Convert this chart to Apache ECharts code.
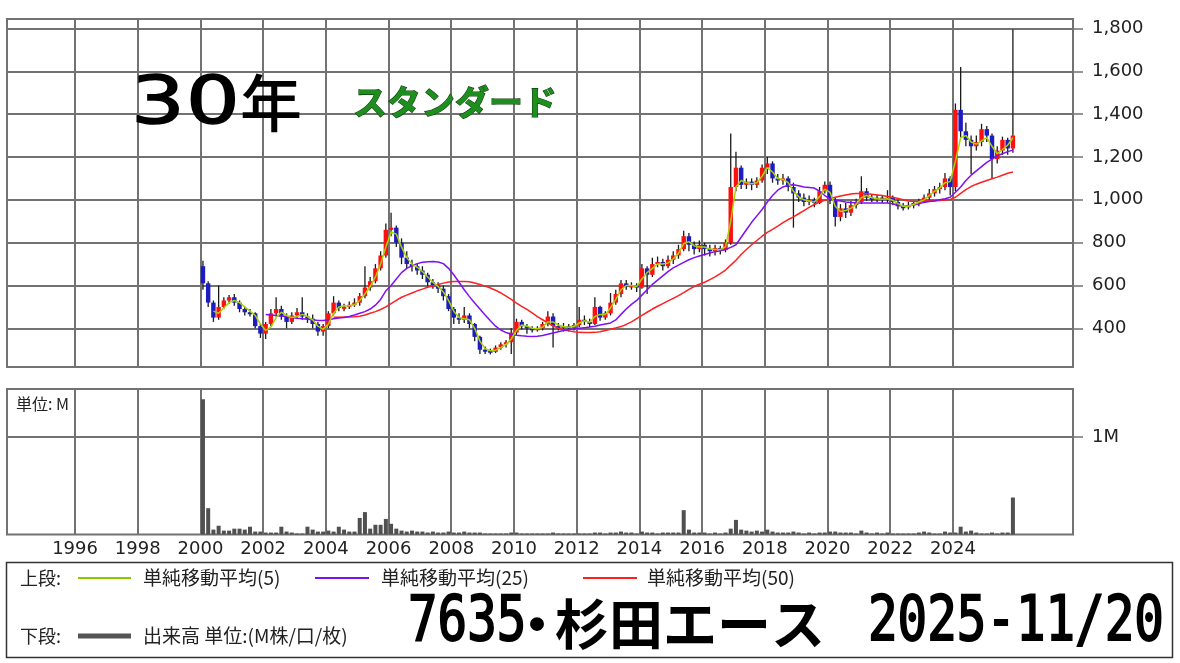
<!DOCTYPE html>
<html><head><meta charset="utf-8">
<script src="https://cdn.jsdelivr.net/npm/echarts@6/dist/echarts.min.js"></script>
<style>html,body{margin:0;padding:0;background:#fff}#c{width:1180px;height:663px}</style>
</head><body><div id="c"></div>
<script>
// ---- tick labels ----
const yearLabels = ['1996','1998','2000','2002','2004','2006','2008','2010','2012','2014','2016','2018','2020','2022','2024'];
const priceTicks = [400,600,800,1000,1200,1400,1600,1800];
const volumeTicks = [1];
// ---- axis range (bimonthly bins) ----
const axisFirstBin = '1993-11';
const axisBinCount = 204;
const firstBar = '2000-01';
const ma5From = '2000-05', ma25From = '2002-01', ma50From = '2004-03';
// ---- candles (bimonthly, yen) ----
const open = [
690,610,520,450,500,530, 545,520,490,475,470,410, 375,420,470,490,455,430, 460,475,455,445,420,385,
410,470,520,495,500,510, 520,550,590,620,680,740, 860,870,800,730,700,690, 670,650,615,600,585,550,
490,450,440,460,420,360, 300,295,290,310,325,335, 380,430,410,400,395,400, 420,455,410,405,410,400,
415,440,430,420,500,450, 470,520,560,610,595,600, 590,680,650,700,710,690, 720,740,770,830,790,770,
790,770,760,775,765,800, 1060,1150,1070,1085,1070,1090, 1150,1170,1100,1090,1100,1060, 1030,1010,990,1000,985,1040,
1070,1000,920,960,940,975, 990,1040,1010,1005,1010,1000, 1010,990,970,965,975,985, 995,1010,1030,1050,1060,1100,
1060,1420,1320,1280,1250,1270, 1330,1300,1190,1230,1280,1240];
const close = [
610,520,450,500,530,545, 520,490,475,470,410,375, 420,470,490,455,430,460, 475,455,445,420,385,410,
470,520,495,500,510,520, 550,590,620,680,740,860, 870,800,730,700,690,670, 650,615,600,585,550,490,
450,440,460,420,360,300, 295,290,310,325,335,380, 430,410,400,395,400,420, 455,410,405,410,400,415,
440,430,420,500,450,470, 520,560,610,595,600,590, 680,650,700,710,690,720, 740,770,830,790,770,790,
770,760,775,765,800,1060, 1150,1070,1085,1070,1090,1150, 1170,1100,1090,1100,1060,1030, 1010,990,1000,985,1040,1070,
1000,920,960,940,975,990, 1040,1010,1005,1010,1000,1010, 990,970,965,975,985,995, 1010,1030,1050,1060,1100,1060,
1420,1320,1280,1250,1270,1330, 1300,1190,1230,1280,1240,1300];
const low = [
580,500,430,440,490,515, 505,475,460,455,400,355, 350,410,455,440,400,420, 445,440,425,400,365,365,
400,460,480,480,490,500, 505,540,575,610,670,730, 830,780,700,680,665,650, 630,595,585,565,530,480,
420,420,425,400,340,280, 280,278,285,300,310,280, 370,395,375,380,385,390, 410,310,390,385,385,390,
405,415,405,415,435,440, 460,510,545,580,580,570, 585,560,640,685,670,680, 700,725,760,760,745,755,
740,735,740,745,755,790, 1040,1050,1050,1045,1055,1080, 1120,1080,1070,1070,1040,870, 990,970,975,965,980,1030,
980,875,900,915,925,960, 980,995,990,990,985,985, 975,955,950,955,960,970, 985,1000,1015,1030,1045,1020,
1040,1290,1250,1120,1230,1250, 1270,1100,1170,1210,1210,1220];
const high = [
715,620,530,600,545,555, 560,530,500,490,475,420, 430,490,545,505,470,475, 495,545,470,465,430,420,
480,550,530,515,525,540, 565,690,640,700,760,890, 940,880,820,760,720,700, 690,660,630,615,600,560,
500,470,500,470,425,365, 315,305,320,335,345,400, 445,440,420,410,410,430, 480,470,425,425,420,425,
500,460,445,545,505,480, 565,580,625,625,615,610, 700,690,730,735,725,740, 760,790,855,845,805,810,
800,790,790,785,815,1310, 1225,1160,1100,1100,1105,1165, 1200,1180,1120,1120,1110,1080, 1045,1030,1020,1010,1060,1085,
1085,1010,980,985,995,1005, 1110,1055,1025,1025,1020,1045, 1020,1000,985,990,995,1005, 1025,1050,1065,1080,1125,1110,
1450,1620,1360,1300,1300,1355, 1345,1310,1250,1295,1290,1795];
// ---- volume (M shares) ----
const volume = [
1.39,0.27,0.05,0.09,0.04,0.04, 0.06,0.06,0.05,0.08,0.03,0.03, 0.02,0.02,0.02,0.08,0.03,0.02, 0.01,0.01,0.08,0.05,0.03,0.03,
0.04,0.03,0.08,0.05,0.03,0.03, 0.17,0.23,0.06,0.10,0.10,0.16, 0.11,0.06,0.04,0.03,0.04,0.03, 0.03,0.02,0.03,0.02,0.02,0.03,
0.02,0.02,0.03,0.02,0.02,0.02, 0.01,0.01,0.01,0.01,0.01,0.02, 0.02,0.01,0.01,0.01,0.01,0.01, 0.01,0.02,0.01,0.01,0.01,0.01,
0.01,0.01,0.01,0.02,0.02,0.01, 0.02,0.02,0.03,0.02,0.02,0.01, 0.03,0.02,0.02,0.01,0.02,0.02, 0.02,0.02,0.25,0.05,0.02,0.02,
0.02,0.01,0.02,0.01,0.02,0.06, 0.15,0.05,0.04,0.03,0.04,0.03, 0.05,0.03,0.02,0.02,0.02,0.03, 0.02,0.01,0.02,0.01,0.02,0.02,
0.03,0.03,0.02,0.02,0.02,0.01, 0.04,0.02,0.01,0.02,0.01,0.02, 0.01,0.01,0.01,0.01,0.01,0.02, 0.03,0.02,0.01,0.01,0.03,0.02,
0.02,0.08,0.03,0.04,0.02,0.01, 0.01,0.02,0.01,0.02,0.02,0.38];
// ---- moving averages ----
const ma5 = [
480,470,495,520, 530,520,500,480,460,420, 390,405,450,475,460,450, 455,465,455,440,410,395,
420,470,500,505,505,510, 530,560,595,640,700,780, 850,840,780,730,700,685, 665,640,615,595,570,530,
480,450,445,440,400,340, 305,295,298,310,325,350, 390,415,410,400,398,405, 430,430,415,408,405,408,
425,435,428,455,465,465, 495,535,580,600,600,595, 630,660,680,700,700,705, 725,750,795,805,785,780,
780,770,768,768,780,900, 1060,1090,1080,1075,1080,1110, 1150,1130,1100,1095,1080,1040, 1015,1000,995,990,1015,1050,
1035,970,945,950,960,980, 1010,1020,1010,1005,1003,1005, 998,982,970,970,978,990, 1000,1020,1040,1055,1080,1085,
1180,1290,1300,1270,1260,1275, 1290,1250,1215,1235,1255,1290];
const ma25 = [
465,462,460,458,455,450, 447,445,442,440,437,437, 440,445,448,450,455,462, 470,478,490,508,535,575,
600,630,660,680,692,702, 708,711,712,710,702,680, 650,615,580,548,518,490, 462,435,410,392,380,372,
368,365,363,362,363,366, 372,378,384,390,394,397, 400,403,406,410,415,420, 425,439,465,490,512,530,
555,580,605,625,645,665, 682,695,708,720,730,738, 745,752,758,762,768,778, 790,825,860,895,925,955,
990,1020,1045,1060,1068,1070, 1066,1060,1058,1055,1040,1020, 1005,998,995,990,988,986, 985,985,985,985,985,985,
982,975,970,972,976,982, 988,992,995,1000,1005,1012, 1035,1060,1090,1115,1135,1155, 1175,1190,1205,1215,1225,1232];
const ma50 = [
452,452,453,453,454, 456,462,470,478,488,500, 515,530,545,555,565,575, 583,592,598,605,611,616,
618,618,618,617,612,605, 597,588,578,565,550,535, 518,502,488,472,455,440, 425,412,400,393,388,384,
381,380,380,381,384,390, 396,402,408,418,430,445, 460,475,490,503,515,528, 540,553,567,582,595,606,
615,627,640,655,672,695, 718,745,768,790,810,830, 848,862,877,893,908,920, 935,950,965,978,990,998,
1005,1012,1018,1023,1027,1030, 1030,1028,1026,1023,1020,1016, 1012,1006,1000,995,992,992, 993,995,996,997,999,1002,
1012,1030,1048,1062,1073,1082, 1090,1098,1106,1115,1124,1130];

// ---- build categories ----
const categories = [];
{
  let [y, m] = axisFirstBin.split('-').map(Number);
  for (let i = 0; i < axisBinCount; i++) {
    categories.push(y + '-' + String(m).padStart(2, '0'));
    m += 2; if (m > 12) { m -= 12; y += 1; }
  }
}
const off = categories.indexOf(firstBar);
function padSeries(arr, from) {
  const s = categories.indexOf(from);
  const out = categories.map(() => null);
  arr.forEach((v, i) => { out[s + i] = v; });
  return out;
}
const candleData = open.map((o, i) => [off + i, o, close[i], low[i], high[i]]);
const volData = padSeries(volume, firstBar);

function isYearLine(idx, val) {
  const v = categories[idx] || val;
  return v.endsWith('-01') && yearLabels.includes(v.slice(0, 4));
}
const gridColor = '#727272';
const chart = echarts.init(document.getElementById('c'), null, {renderer: 'canvas'});
function txt(text, x, y, font, style, props) {
  return Object.assign({type: 'text', x: x, y: y, silent: true, z: 100,
    style: Object.assign({text: text, font: font, fill: '#222', textVerticalAlign: 'middle', textAlign: 'left'}, style || {})},
    props || {});
}
const ln = (x1, x2, y, color, w) => ({type: 'line', silent: true, z: 100, shape: {x1: x1, y1: y, x2: x2, y2: y}, style: {stroke: color, lineWidth: w}});

chart.setOption({
  animation: false,
  backgroundColor: '#fff',
  grid: [
    {left: 7, right: 107, top: 19, height: 348, show: true, borderColor: gridColor, borderWidth: 2},
    {left: 7, right: 107, top: 389, height: 145.5, show: true, borderColor: gridColor, borderWidth: 2}
  ],
  xAxis: [
    {type: 'category', gridIndex: 0, data: categories, boundaryGap: true,
      axisLine: {show: false}, axisTick: {show: false}, axisLabel: {show: false},
      splitLine: {show: true, interval: isYearLine, lineStyle: {color: gridColor, width: 2}}},
    {type: 'category', gridIndex: 1, data: categories, boundaryGap: true,
      axisLine: {show: false}, axisTick: {show: false},
      axisLabel: {show: true, interval: isYearLine, formatter: v => v.slice(0, 4),
        fontFamily: 'DejaVu Sans', fontSize: 18, color: '#222', margin: 6, padding: [0, 5, 0, 0]},
      splitLine: {show: true, interval: isYearLine, lineStyle: {color: gridColor, width: 2}}}
  ],
  yAxis: [
    {type: 'value', gridIndex: 0, position: 'right', min: 219.3, max: 1844.4, splitNumber: 8,
      axisLine: {show: false},
      axisTick: {show: true, length: 10, customValues: priceTicks, lineStyle: {color: gridColor, width: 1.5}},
      axisLabel: {customValues: priceTicks, margin: 19, fontFamily: 'DejaVu Sans', fontSize: 18, color: '#222',
        formatter: v => priceTicks.includes(v) ? v.toLocaleString('en-US') : ''},
      splitLine: {show: true, lineStyle: {color: gridColor, width: 2}}},
    {type: 'value', gridIndex: 1, position: 'right', min: 0, max: 1.494,
      axisLine: {show: false},
      axisTick: {show: true, length: 10, customValues: volumeTicks, lineStyle: {color: gridColor, width: 1.5}},
      axisLabel: {customValues: volumeTicks, margin: 19, fontFamily: 'DejaVu Sans', fontSize: 18, color: '#222',
        formatter: v => volumeTicks.includes(v) ? v + 'M' : ''},
      splitLine: {show: true, lineStyle: {color: gridColor, width: 2}}}
  ],
  series: [
    {type: 'custom', xAxisIndex: 0, yAxisIndex: 0, data: candleData, encode: {x: 0, y: [1, 2, 3, 4]}, z: 3,
      renderItem: function (params, api) {
        const x = api.value(0), o = api.value(1), c = api.value(2), l = api.value(3), h = api.value(4);
        const ph = api.coord([x, h]), pl = api.coord([x, l]), po = api.coord([x, o]), pc = api.coord([x, c]);
        const bw = api.size([1, 0])[0] * 0.85;
        const top = Math.min(po[1], pc[1]), bot = Math.max(po[1], pc[1]);
        return {type: 'group', children: [
          {type: 'line', shape: {x1: ph[0], y1: ph[1], x2: pl[0], y2: pl[1]}, style: {stroke: '#1a1a1a', lineWidth: 1.3}},
          {type: 'rect', shape: {x: ph[0] - bw / 2, y: top, width: bw, height: Math.max(bot - top, 2)},
            style: {fill: c >= o ? '#ff1010' : '#1c1cc0'}}
        ]};
      }},
    {type: 'line', name: 'MA50', xAxisIndex: 0, yAxisIndex: 0, data: padSeries(ma50, ma50From), showSymbol: false, z: 4,
      lineStyle: {color: '#ff2020', width: 1.5}},
    {type: 'line', name: 'MA25', xAxisIndex: 0, yAxisIndex: 0, data: padSeries(ma25, ma25From), showSymbol: false, z: 4,
      lineStyle: {color: '#8010f0', width: 1.5}},
    {type: 'line', name: 'MA5', xAxisIndex: 0, yAxisIndex: 0, data: padSeries(ma5, ma5From), showSymbol: false, z: 5,
      lineStyle: {color: '#a8d400', width: 1.5}},
    {type: 'bar', xAxisIndex: 1, yAxisIndex: 1, data: volData, barWidth: 4,
      itemStyle: {color: '#505050'}}
  ],
  graphic: [
    txt('3', 131, 106, '66px "DejaVu Sans"', {fill: '#000', stroke: '#000', lineWidth: 1.5}, {scaleX: 1.28}),
    txt('0', 186, 106, '66px "DejaVu Sans"', {fill: '#000', stroke: '#000', lineWidth: 1.5}, {scaleX: 1.28}),
    txt('年', 240, 103, '500 62px "Noto Sans CJK JP"', {fill: '#000'}),
    txt('スタンダード', 353, 102, 'bold 34px "Noto Sans CJK JP"', {fill: '#1e8f1e', stroke: '#0d3f0d', lineWidth: 1.2}),
    txt('単位: M', 16, 404, '16px "Noto Sans CJK JP"'),
    {type: 'rect', silent: true, z: 100, shape: {x: 6.5, y: 562.5, width: 1166, height: 95}, style: {fill: 'none', stroke: '#333', lineWidth: 1.5}},
    txt('上段:', 20, 578, '18px "Noto Sans CJK JP"'),
    ln(78, 131, 578, '#8cc800', 2),
    txt('単純移動平均(5)', 143, 578, '19px "Noto Sans CJK JP"'),
    ln(315, 369, 578, '#8010f0', 2),
    txt('単純移動平均(25)', 381, 578, '19px "Noto Sans CJK JP"'),
    ln(583, 637, 578, '#ff2020', 2),
    txt('単純移動平均(50)', 647, 578, '19px "Noto Sans CJK JP"'),
    txt('下段:', 20, 636, '18px "Noto Sans CJK JP"'),
    ln(78, 131, 636, '#555', 5),
    txt('出来高 単位:(M株/口/枚)', 143, 636, '19px "Noto Sans CJK JP"'),
    txt('7635', 408, 624, '63px "DejaVu Sans Mono"', {fill: '#000', stroke: '#000', lineWidth: 2}, {scaleX: 0.78}),
    txt('・', 537, 624, 'bold 54px "Noto Sans CJK JP"', {fill: '#000', textAlign: 'center'}),
    txt('杉田エース', 555, 624, 'bold 54px "Noto Sans CJK JP"', {fill: '#000'}),
    txt('2025-11/20', 868, 624, '63px "DejaVu Sans Mono"', {fill: '#000', stroke: '#000', lineWidth: 2}, {scaleX: 0.78})
  ]
});
</script></body></html>
